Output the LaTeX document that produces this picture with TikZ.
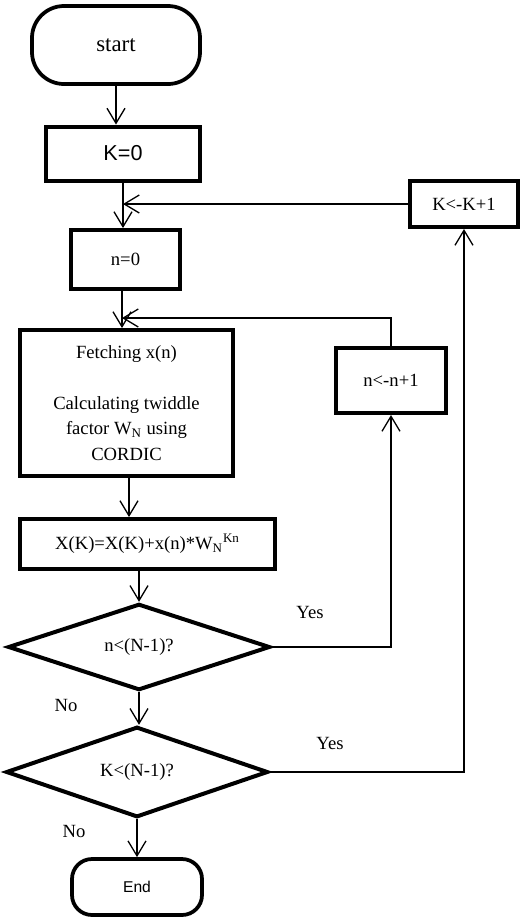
\documentclass[tikz,border=0pt]{standalone}
\usepackage{fontspec}
\setmainfont{Liberation Serif}
\setsansfont{Liberation Sans}
\usetikzlibrary{arrows.meta,shapes.geometric}

\begin{document}
\begin{tikzpicture}[x=0.2mm,y=-0.2mm,
  font=\fontsize{10.6}{14.5}\selectfont,
  box/.style={draw,line width=0.8mm,inner sep=0pt,align=center},
  term/.style={draw,line width=0.75mm,inner sep=0pt},
  cond/.style={draw,diamond,line width=0.8mm,inner sep=0pt,minimum width=52.4mm,minimum height=17mm},
  arr/.style={line width=0.26mm,-{Straight Barb[length=3mm,width=3.6mm]}},
  conn/.style={line width=0.26mm}]
\useasboundingbox (0,0) rectangle (531,920);
\node[term,rounded corners=6.4mm,minimum width=33.6mm,minimum height=15.6mm,font=\fontsize{13}{15}\selectfont] (start) at (116,45) {start};
\node[box,minimum width=30.6mm,minimum height=10.8mm,font=\sffamily\fontsize{12.3}{14}\selectfont] (k0) at (123,153.5) {K=0};
\node[box,minimum width=21.6mm,minimum height=9.2mm] (kinc) at (464,204) {K<-K+1};
\node[box,minimum width=21.8mm,minimum height=11.8mm] (n0) at (125.5,259.5) {n=0};
\node[box,minimum width=22mm,minimum height=13mm] (ninc) at (391,380.5) {n<-n+1};
\node[box,minimum width=42.6mm,minimum height=29.2mm] (fetch) at (126.5,403) {Fetching x(n)\\[14.5pt]Calculating twiddle\\factor W\textsubscript{N} using\\CORDIC};
\node[box,minimum width=51mm,minimum height=10mm] (xk) at (147.5,544) {X(K)=X(K)+x(n)*W\textsubscript{N}\textsuperscript{Kn}};
\node[cond] (d1) at (139,647) {n<(N-1)?};
\node[cond,minimum height=17.2mm] (d2) at (137,772) {K<(N-1)?};
\node[term,rounded corners=4mm,minimum width=26mm,minimum height=11.2mm,font=\sffamily\fontsize{8.9}{11}\selectfont] (end) at (137,887) {End};
\node (yes1) at (310,612) {Yes};
\node (yes2) at (330,743) {Yes};
\node (no1) at (66,705) {No};
\node (no2) at (74,831) {No};
\coordinate (nret) at (122,318);
\draw[arr] (start.south) -- (start.south |- k0.north);
\draw[arr] (k0.south) -- (k0.south |- n0.north);
\draw[arr] (kinc.west) -- (k0.south |- kinc.west);
\draw[arr] (n0.south -| nret) -- (nret |- fetch.north);
\draw[arr] (ninc.north) |- (nret);
\draw[arr] (fetch.south -| 129,0) -- (129,0 |- xk.north);
\draw[arr] (xk.south -| d1.north) -- (d1.north);
\draw[arr] (d1.east) -| (ninc.south);
\draw[arr] (d1.south) -- (d1.south |- d2.north);
\draw[arr] (d2.east) -| (kinc.south);
\draw[arr] (d2.south) -- (d2.south |- end.north);
\end{tikzpicture}
\end{document}
